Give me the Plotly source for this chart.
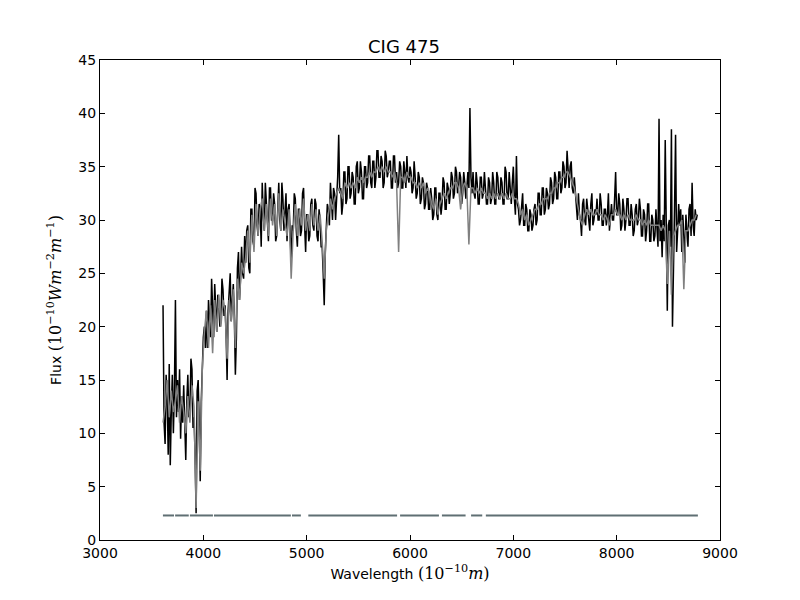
import plotly.graph_objects as go

wave_obs = list(range(3610, 8790, 10))
flux_obs = [
    22.0, 11.0, 9.0, 15.5, 13.5, 8.0, 16.5, 7.0, 12.0, 15.5, 10.0, 14.0, 22.5, 11.5, 15.0, 12.0, 16.0, 9.5, 13.5, 11.0,
    14.5, 10.0, 7.5, 13.0, 15.5, 11.5, 12.0, 17.0, 16.0, 10.5, 11.5, 8.0, 2.5, 14.0, 15.0, 11.0, 5.5, 13.0, 17.5, 19.0,
    20.0, 18.0, 21.5, 18.0, 22.5, 20.0, 19.0, 24.5, 21.0, 19.0, 24.0, 21.5, 19.5, 23.0, 22.0, 20.0, 20.5, 24.5, 23.5, 21.0,
    22.0, 19.5, 15.0, 21.5, 23.5, 25.0, 20.5, 23.0, 24.0, 21.0, 15.5, 19.0, 25.5, 27.0, 22.5, 24.5, 27.5, 25.0, 24.5, 28.5,
    26.0, 29.0, 29.5, 25.5, 25.0, 31.0, 31.0, 28.0, 27.5, 33.0, 32.5, 29.5, 28.5, 31.5, 31.0, 27.5, 33.5, 30.5, 29.0, 33.5,
    32.0, 29.5, 28.0, 33.0, 33.0, 30.0, 30.0, 32.5, 31.5, 28.0, 28.5, 31.0, 33.5, 30.0, 29.0, 33.5, 32.0, 29.0, 30.5, 32.5,
    28.0, 31.0, 31.5, 29.0, 26.0, 29.5, 29.0, 32.5, 32.0, 29.0, 27.5, 31.0, 31.0, 28.5, 29.0, 32.5, 33.0, 29.5, 27.0, 30.5,
    30.5, 28.0, 28.5, 31.5, 32.0, 29.5, 29.0, 32.0, 31.5, 28.5, 28.0, 31.0, 30.0, 27.5, 27.5, 25.0, 22.0, 27.0, 29.5, 31.5,
    31.0, 29.5, 33.5, 31.0, 30.0, 33.0, 32.5, 30.0, 31.5, 34.0, 38.0, 32.5, 33.0, 30.5, 31.5, 34.5, 34.5, 31.5, 32.0, 35.0,
    35.0, 32.0, 32.5, 34.5, 34.0, 31.5, 31.5, 35.0, 35.5, 32.5, 33.0, 35.5, 34.5, 32.0, 32.0, 35.0, 35.0, 33.0, 33.5, 36.0,
    36.0, 33.5, 33.0, 35.5, 35.5, 33.0, 34.0, 36.5, 36.5, 34.0, 34.0, 36.0, 35.5, 33.0, 33.5, 36.5, 36.0, 34.0, 34.5, 35.5,
    35.5, 33.0, 33.0, 36.0, 36.0, 33.5, 34.5, 33.0, 33.5, 35.5, 35.0, 33.0, 33.0, 35.5, 34.5, 33.0, 36.0, 34.0, 33.5, 35.0,
    34.5, 32.5, 33.0, 35.5, 34.0, 32.0, 32.5, 34.5, 34.0, 31.5, 32.0, 34.0, 33.5, 31.0, 31.5, 33.5, 33.0, 31.0, 31.0, 33.0,
    32.0, 30.0, 30.5, 33.0, 33.0, 30.5, 30.0, 32.5, 32.5, 30.5, 31.5, 34.0, 33.5, 31.0, 31.0, 33.5, 33.0, 31.5, 32.5, 34.5,
    34.0, 32.0, 32.5, 35.0, 34.5, 32.5, 33.0, 34.5, 34.0, 31.5, 32.5, 34.5, 33.5, 32.0, 33.0, 34.5, 33.0, 40.5, 34.0, 32.5,
    34.5, 32.5, 32.0, 34.5, 33.5, 31.5, 31.5, 34.0, 34.0, 32.0, 32.5, 34.5, 33.0, 31.5, 31.5, 34.0, 33.5, 31.5, 32.0, 34.5,
    33.5, 31.5, 31.5, 34.5, 34.0, 32.0, 32.0, 34.0, 33.5, 31.5, 31.5, 35.0, 34.5, 32.0, 32.0, 34.5, 33.0, 31.5, 33.5, 35.0,
    32.0, 30.5, 36.0, 31.5, 31.0, 29.5, 30.0, 31.5, 32.5, 29.5, 29.5, 31.5, 31.0, 29.0, 29.0, 31.0, 30.5, 29.0, 29.5, 31.0,
    31.5, 29.5, 30.0, 32.5, 32.5, 30.5, 30.5, 33.0, 33.0, 30.5, 31.0, 33.0, 32.5, 31.0, 31.5, 34.0, 33.5, 31.5, 32.0, 34.5,
    34.0, 32.0, 32.0, 34.5, 34.5, 32.5, 33.0, 35.5, 35.0, 33.0, 33.5, 36.5, 34.0, 33.0, 35.0, 35.5, 33.0, 32.5, 34.0, 32.5,
    31.5, 30.0, 32.5, 30.5, 30.0, 28.5, 31.5, 32.0, 30.0, 29.5, 32.0, 31.0, 30.5, 29.0, 31.5, 32.5, 29.5, 30.0, 31.0, 30.5,
    32.0, 30.0, 30.0, 32.5, 31.5, 29.5, 29.5, 31.0, 31.0, 29.5, 30.5, 32.5, 29.0, 30.0, 31.5, 30.0, 30.0, 32.0, 34.5, 30.5,
    30.5, 32.5, 31.5, 29.0, 29.5, 32.0, 31.0, 29.0, 30.0, 32.0, 32.0, 29.5, 29.5, 31.5, 30.5, 28.5, 29.0, 31.0, 31.5, 29.5,
    30.0, 32.0, 31.0, 28.5, 28.5, 31.0, 30.5, 28.0, 29.0, 31.5, 31.5, 28.0, 28.0, 30.5, 30.0, 28.0, 28.5, 31.0, 29.5, 27.5,
    39.5, 28.0, 30.0, 26.5, 30.5, 28.0, 37.5, 27.5, 21.5, 29.5, 30.0, 27.5, 38.5, 20.0, 28.5, 31.0, 38.0, 27.0, 29.0, 31.5,
    29.5, 31.0, 27.0, 30.5, 28.5, 26.0, 30.5, 29.0, 27.5, 31.0, 31.5, 28.5, 33.5, 29.5, 28.5, 31.0, 30.0, 30.5,
]

# model fit (grey), 20 A spacing
wave_fit = list(range(3610, 8790, 20))
flux_fit = [
    11.0, 12.5, 15.0, 11.5, 14.0, 12.0, 13.0, 14.5, 11.0, 13.5,
    12.0, 10.0, 13.5, 11.0, 14.5, 12.5, 3.0, 13.0, 6.5, 16.0,
    19.5, 21.5, 18.0, 22.0, 17.5, 22.5, 19.5, 23.0, 20.0, 22.5,
    21.5, 17.0, 22.5, 20.5, 23.5, 18.0, 24.5, 22.5, 26.0, 25.0,
    26.5, 29.0, 26.0, 30.5, 27.0, 31.5, 28.5, 31.0, 32.0, 29.0,
    31.5, 28.5, 32.0, 29.5, 31.5, 28.5, 32.5, 29.0, 31.0, 29.5,
    28.5, 31.0, 24.5, 29.0, 31.5, 28.5, 31.0, 29.5, 32.0, 29.0,
    30.5, 29.0, 31.5, 29.5, 31.0, 29.0, 30.5, 28.0, 24.5, 29.0,
    30.5, 32.0, 31.0, 32.0, 32.5, 33.0, 32.5, 32.0, 33.5, 33.0,
    33.5, 33.0, 33.5, 33.0, 34.0, 33.5, 34.0, 33.5, 34.0, 34.0,
    34.5, 34.0, 34.5, 34.5, 35.0, 34.5, 35.0, 34.5, 35.0, 34.5,
    34.5, 34.0, 34.5, 33.5, 27.0, 34.0, 34.0, 33.5, 34.5, 34.0,
    34.0, 33.5, 33.5, 33.0, 33.5, 33.0, 33.5, 32.5, 33.0, 32.5,
    31.5, 31.0, 32.0, 30.5, 31.5, 32.0, 32.5, 32.0, 32.5, 33.0,
    33.0, 33.5, 33.5, 33.0, 31.0, 33.0, 33.5, 33.0, 27.7, 33.0,
    33.0, 32.5, 33.0, 32.5, 33.0, 32.5, 32.5, 32.0, 32.5, 32.0,
    32.5, 32.0, 32.5, 32.0, 32.5, 32.0, 32.5, 32.0, 32.0, 32.5,
    32.0, 32.0, 31.5, 30.5, 31.0, 30.0, 30.5, 29.5, 30.0, 30.5,
    31.0, 31.0, 31.5, 31.5, 32.0, 32.0, 32.0, 32.5, 32.5, 33.0,
    33.0, 33.5, 33.5, 34.0, 34.0, 34.5, 34.5, 34.0, 33.5, 33.0,
    32.0, 31.0, 30.0, 29.5, 30.5, 31.0, 30.5, 31.0, 30.5, 30.5,
    31.0, 30.5, 30.5, 30.0, 30.5, 30.0, 29.5, 30.5, 30.5, 31.0,
    30.5, 30.5, 30.0, 30.5, 30.0, 30.5, 30.0, 30.0, 30.0, 30.5,
    30.0, 30.0, 29.5, 30.0, 29.5, 30.0, 29.5, 29.5, 29.5, 29.5,
    29.5, 29.0, 29.5, 29.0, 24.0, 29.0, 23.0, 28.5, 29.0, 29.5,
    29.5, 30.0, 23.5, 29.0, 29.0, 29.5, 30.0, 30.0, 30.5,
]

# fitted-region mask (segments drawn at a constant level)
mask_start = [3609, 3727, 3870, 4103, 4858, 5016, 5904, 6309, 6591, 6734]
mask_end = [3716, 3859, 4093, 4847, 4944, 5875, 6280, 6538, 6699, 8786]
mask_level = 2.3

mask_x, mask_y = [], []
for a, b in zip(mask_start, mask_end):
    mask_x += [a, b, None]
    mask_y += [mask_level, mask_level, None]

fig = go.Figure()
fig.add_trace(go.Scatter(x=wave_obs, y=flux_obs, mode="lines",
                         line=dict(color="black", width=1.5)))
fig.add_trace(go.Scatter(x=wave_fit, y=flux_fit, mode="lines",
                         line=dict(color="#808080", width=1.5)))
fig.add_trace(go.Scatter(x=mask_x, y=mask_y, mode="lines",
                         line=dict(color="#5f6f73", width=2)))

math = "font-family:'DejaVu Serif';font-size:16px"
fig.update_layout(
    width=792,
    height=592,
    showlegend=False,
    plot_bgcolor="white",
    paper_bgcolor="white",
    font=dict(family="DejaVu Sans", size=14, color="black"),
    title=dict(text="CIG 475", x=0.5, xanchor="center", y=0.934,
               yanchor="middle", yref="container", font=dict(size=18)),
    margin=dict(l=92, r=80, t=52, b=60),
)

fig.update_xaxes(
    range=[3000, 9000],
    dtick=1000,
    showgrid=False,
    zeroline=False,
    showline=True,
    linecolor="black",
    linewidth=1,
    mirror="ticks",
    ticks="inside",
    ticklen=5,
    tickcolor="black",
    title=dict(text=f"Wavelength <span style=\"{math}\">(10<sup>−10</sup><i>m</i>)</span>",
               standoff=9, font=dict(size=14)),
)

fig.update_yaxes(
    range=[0, 45],
    dtick=5,
    showgrid=False,
    zeroline=False,
    showline=True,
    linecolor="black",
    linewidth=1,
    mirror="ticks",
    ticks="inside",
    ticklen=5,
    tickcolor="black",
    title=dict(text=f"Flux <span style=\"{math}\">(10<sup>−10</sup><i>Wm</i><sup>−2</sup><i>m</i><sup>−1</sup>)</span>",
               standoff=13, font=dict(size=14)),
)

fig.write_html("out.html")
